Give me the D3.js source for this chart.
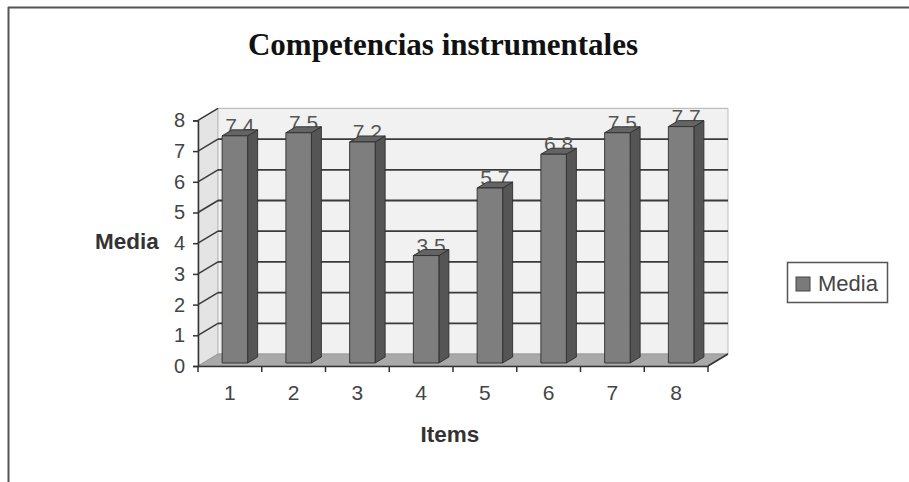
<!DOCTYPE html>
<html><head><meta charset="utf-8">
<script src="https://cdn.jsdelivr.net/npm/d3@7"></script>
<style>html,body{margin:0;padding:0;background:#fff;}svg{display:block;}</style>
</head><body>
<script>
const categories = ["1","2","3","4","5","6","7","8"];
const values = [7.4, 7.5, 7.2, 3.5, 5.7, 6.8, 7.5, 7.7];
const yTicks = [0,1,2,3,4,5,6,7,8];
const seriesName = "Media";
const title = "Competencias instrumentales";
const xTitle = "Items";
const yTitle = "Media";

(function(){
const W = 909, H = 482;
const SANS = "Liberation Sans, Arial, sans-serif";
const svg = d3.select("body").append("svg").attr("width", W).attr("height", H);

// frame
svg.append("line").attr("x1",8.5).attr("y1",7).attr("x2",8.5).attr("y2",H).attr("stroke","#555").attr("stroke-width",2);
svg.append("line").attr("x1",8).attr("y1",7.5).attr("x2",W).attr("y2",7.5).attr("stroke","#555").attr("stroke-width",2);

const pLeft = 198, pRight = 708, pBottom = 366, pTop = 120.4;
const DX = 20, DY = -12;
const x = d3.scaleBand().domain(categories).range([pLeft, pRight]).paddingInner(0.6).paddingOuter(0.3);
const xc = d3.scaleBand().domain(categories).range([pLeft, pRight]);
const y = d3.scaleLinear().domain([0, 8]).range([pBottom, pTop]);

// walls
svg.append("polygon").attr("points", [[pLeft,pBottom],[pLeft,pTop],[pLeft+DX,pTop+DY],[pLeft+DX,pBottom+DY]].join(" "))
  .attr("fill","#e4e4e4").attr("stroke","#bbb");
svg.append("polygon").attr("points", [[pLeft+DX,pTop+DY],[pRight+DX,pTop+DY],[pRight+DX,pBottom+DY],[pLeft+DX,pBottom+DY]].join(" "))
  .attr("fill","#f1f1f1").attr("stroke","#bbb");
svg.append("polygon").attr("points", [[pLeft,pBottom],[pRight,pBottom],[pRight+DX,pBottom+DY],[pLeft+DX,pBottom+DY]].join(" "))
  .attr("fill","#a9a9a9").attr("stroke","#999");

// gridlines
const grid = svg.append("g");
yTicks.filter(t => t > 0).forEach(t => {
  grid.append("line").attr("x1",pLeft+DX).attr("x2",pRight+DX).attr("y1",y(t)+DY).attr("y2",y(t)+DY)
    .attr("stroke", t === 8 ? "#bbb" : "#3a3a3a").attr("stroke-width", t === 8 ? 1 : 1.8);
  grid.append("line").attr("x1",pLeft).attr("x2",pLeft+DX).attr("y1",y(t)).attr("y2",y(t)+DY)
    .attr("stroke","#3a3a3a").attr("stroke-width",1.5);
});

// data labels (drawn first, bars overlap them)
const bw = x.bandwidth();
const fdx = DX*0.25, fdy = DY*0.25, ddx = DX*0.5, ddy = DY*0.5;
svg.append("g").selectAll("text").data(values).join("text")
  .attr("x",(d,i)=>x(categories[i]) + fdx + bw/2 + ddx/2)
  .attr("y",(d)=>y(d) + fdy - 3)
  .attr("text-anchor","middle").attr("font-family",SANS)
  .attr("font-size",21).attr("fill","#555").text(d=>d);

// bars
const bars = svg.append("g");
values.forEach((v,i)=>{
  const x0 = x(categories[i]) + fdx, x1 = x0 + bw;
  const yb = y(0) + fdy, yt = y(v) + fdy;
  const g = bars.append("g").attr("stroke","#2e2e2e").attr("stroke-width",0.9).attr("stroke-linejoin","round");
  g.append("polygon").attr("points",[[x1,yb],[x1,yt],[x1+ddx,yt+ddy],[x1+ddx,yb+ddy]].join(" ")).attr("fill","#555");
  g.append("polygon").attr("points",[[x0,yt],[x1,yt],[x1+ddx,yt+ddy],[x0+ddx,yt+ddy]].join(" ")).attr("fill","#646464");
  g.append("rect").attr("x",x0).attr("y",yt).attr("width",bw).attr("height",yb-yt).attr("fill","#7e7e7e");
});

// axes
const yAxis = d3.axisLeft(y).tickValues(yTicks).tickSize(5).tickPadding(8);
const gy = svg.append("g").attr("transform",`translate(${pLeft},0)`).call(yAxis);
gy.select(".domain").attr("stroke","#333").attr("stroke-width",1.5);
gy.selectAll(".tick line").attr("stroke","#333").attr("stroke-width",1.5);
gy.selectAll(".tick text").attr("font-family",SANS).attr("font-size",20).attr("fill","#444");

const xAxis = d3.axisBottom(xc).tickSize(0).tickPadding(0);
const gx = svg.append("g").attr("transform",`translate(0,${pBottom})`).call(xAxis);
gx.select(".domain").attr("stroke","#333").attr("stroke-width",1.5);
gx.selectAll(".tick text").attr("y",34).attr("dy",null).attr("font-family",SANS).attr("font-size",21).attr("fill","#444");
svg.append("g").selectAll("line").data(categories.concat(["end"])).join("line")
  .attr("x1",(d,i)=> pLeft + i*xc.step()).attr("x2",(d,i)=> pLeft + i*xc.step())
  .attr("y1",pBottom).attr("y2",pBottom+6).attr("stroke","#333").attr("stroke-width",1.5);
svg.append("line").attr("x1",pRight).attr("y1",pBottom).attr("x2",pRight+DX).attr("y2",pBottom+DY)
  .attr("stroke","#333").attr("stroke-width",1.5);

// titles
svg.append("text").attr("x",443).attr("y",55).attr("text-anchor","middle")
  .attr("font-family","Liberation Serif, Times New Roman, serif").attr("font-weight","bold").attr("font-size",31).attr("fill","#111").text(title);
svg.append("text").attr("x",127).attr("y",249).attr("text-anchor","middle")
  .attr("font-family",SANS).attr("font-weight","bold").attr("font-size",22.5).attr("fill","#333").text(yTitle);
svg.append("text").attr("x",450).attr("y",442).attr("text-anchor","middle")
  .attr("font-family",SANS).attr("font-weight","bold").attr("font-size",22.5).attr("fill","#333").text(xTitle);

// legend
const lg = svg.append("g").attr("transform","translate(787,262)");
lg.append("rect").attr("x",0.5).attr("y",0.5).attr("width",100).attr("height",40).attr("fill","#fff").attr("stroke","#555").attr("stroke-width",1.5);
lg.append("rect").attr("x",9).attr("y",15).attr("width",14).attr("height",14).attr("fill","#7a7a7a").attr("stroke","#444");
lg.append("text").attr("x",31).attr("y",28.5).attr("font-family",SANS).attr("font-size",22).attr("fill","#444").text(seriesName);
})();
</script>
</body></html>
